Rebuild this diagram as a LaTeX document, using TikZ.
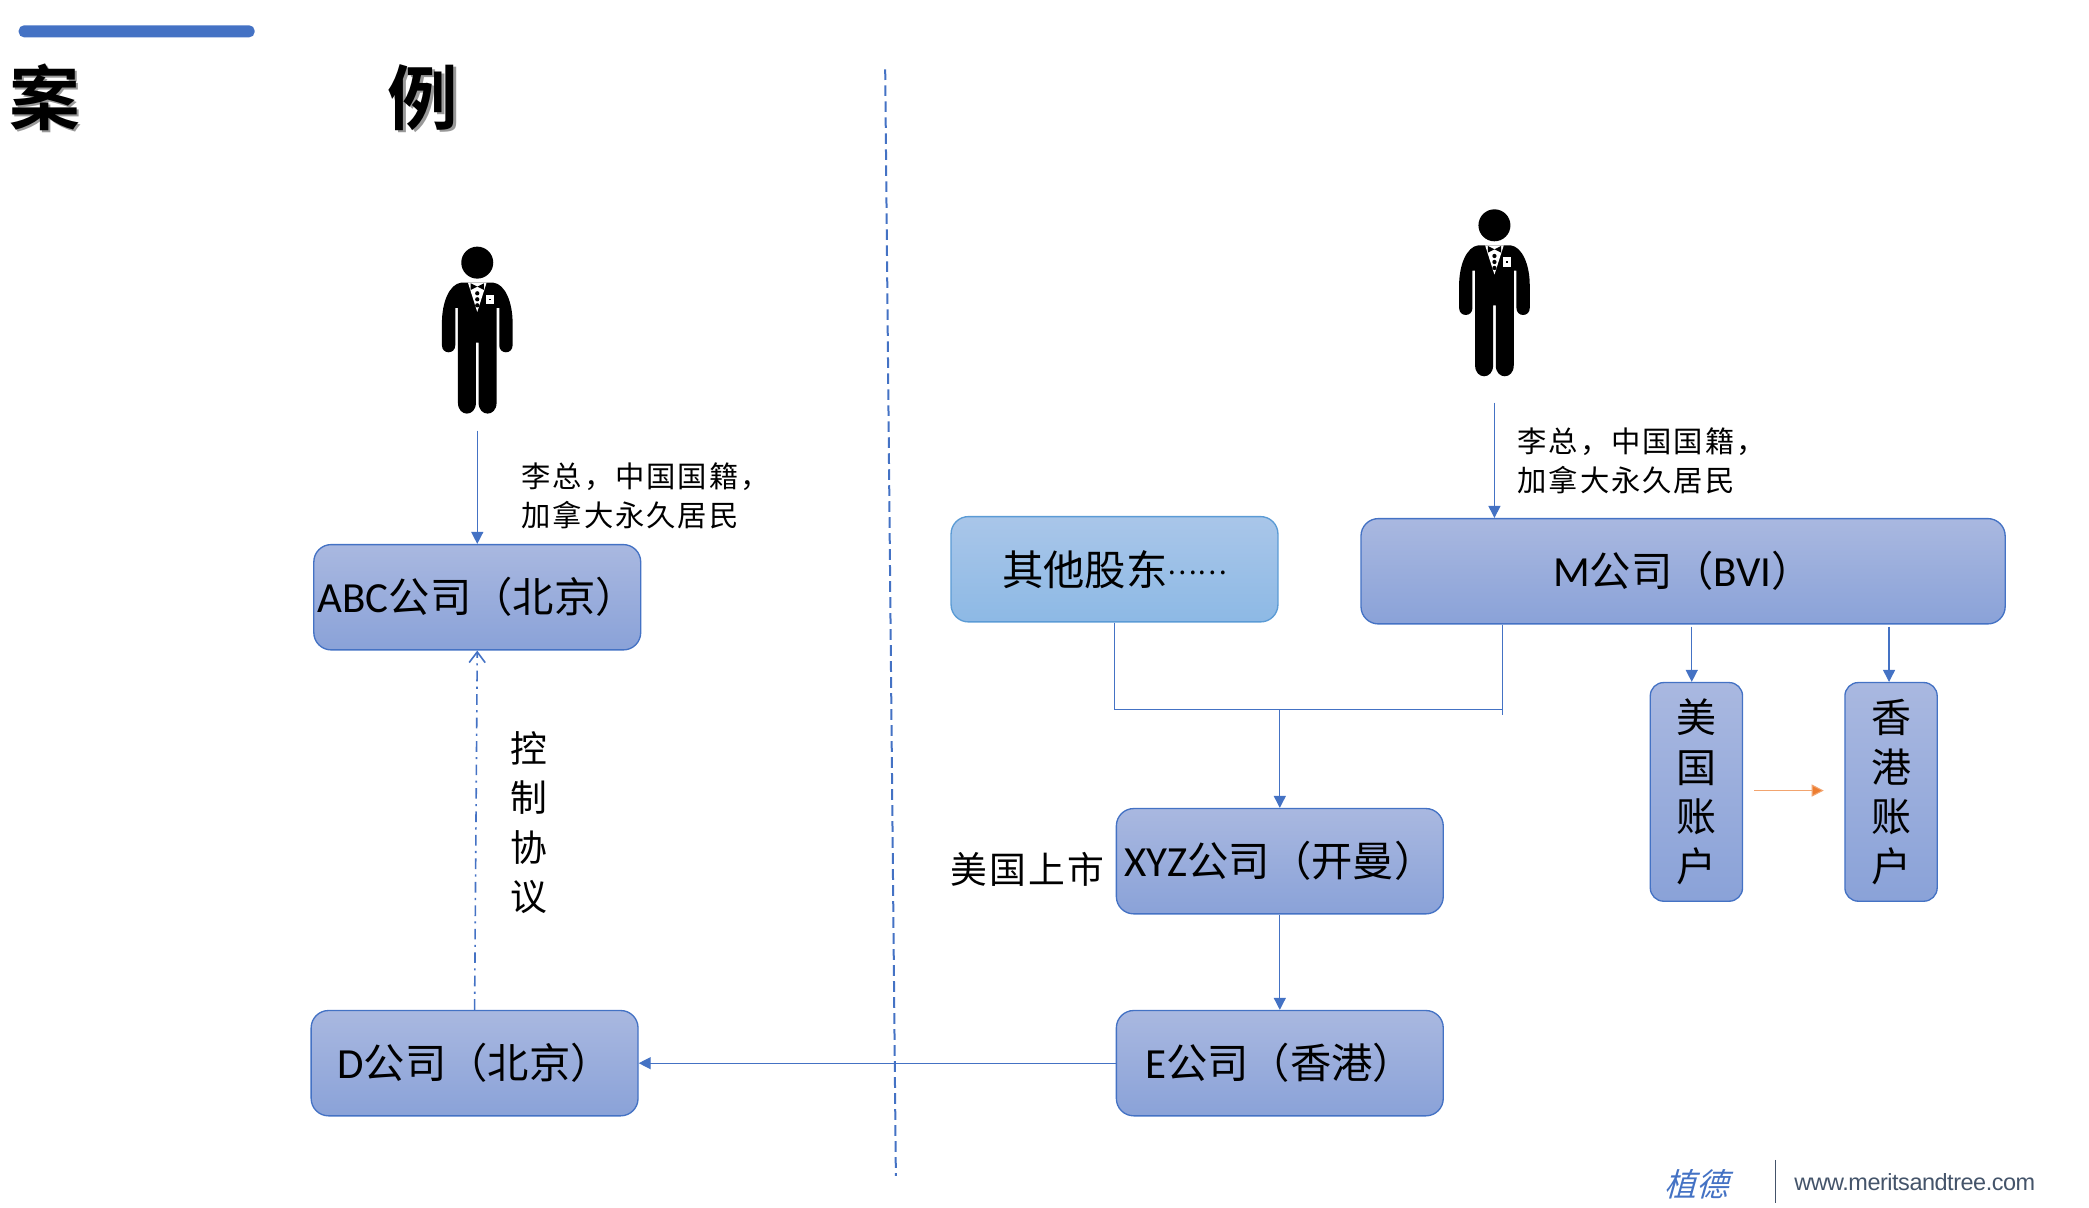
\documentclass[tikz,border=0pt]{standalone}
\usepackage{fontspec}
\usetikzlibrary{arrows.meta}
\setmainfont[Scale=1.04]{Carlito}
\newfontfamily\cjk{Noto Sans CJK SC}
\newfontfamily\cjkwide[LetterSpace=6.5]{Noto Sans CJK SC}
\newfontfamily\cjkbold[BoldFont=*]{Noto Sans CJK SC Bold}
\newfontfamily\cjkslant[FakeSlant=0.28]{Noto Sans CJK SC}
\newfontfamily\webfont[LetterSpace=-2]{Liberation Sans}
\definecolor{linkblue}{HTML}{4472C4}
\definecolor{boxtop}{HTML}{A9B8E0}
\definecolor{boxbot}{HTML}{8AA2D8}
\definecolor{othertop}{HTML}{A9C6E9}
\definecolor{otherbot}{HTML}{8DB9E5}
\definecolor{otherline}{HTML}{5B9BD5}
\definecolor{logogrey}{HTML}{44546A}
\definecolor{linkorange}{HTML}{ED7D31}
\tikzset{
    companybox/.style={draw=linkblue, line width=0.5pt, rounded corners=6.5pt, top color=boxtop,
        bottom color=boxbot, inner sep=0pt, minimum width=122.6pt, minimum height=39.5pt,
        font=\fontsize{15.5}{18.6}\selectfont},
    otherbox/.style={companybox, draw=otherline, top color=othertop, bottom color=otherbot},
    accountbox/.style={companybox, rounded corners=5pt, minimum width=34.6pt, minimum height=82pt,
        align=center, font=\cjk\fontsize{15}{18.6}\selectfont},
    notetext/.style={inner sep=0pt, align=left, font=\cjkwide\fontsize{11}{14.5}\selectfont},
    sidetext/.style={inner sep=0pt, align=center, font=\cjkwide\fontsize{13.8}{18.5}\selectfont},
    titletext/.style={inner sep=0pt, font=\cjkbold\fontsize{26.5}{26.5}\selectfont},
    link/.style={draw=linkblue, line width=0.5pt},
    linkarrow/.style={link, -{Triangle[length=4.5pt,width=4.5pt]}},
    manfig/.pic={
        \fill[black] (0,0) circle (6pt);
        \fill[black] (-12,15) .. controls (-21,16) and (-26.5,30) .. (-26.5,45) -- (-26.5,62)
            .. controls (-26.5,69) and (-16.5,69) .. (-16.5,62) -- (-16.5,34) -- (-14.5,34)
            -- (-14.5,105) .. controls (-14.5,116) and (-1,116) .. (-1,105) -- (-1,60) -- (1,60)
            -- (1,105) .. controls (1,116) and (14.5,116) .. (14.5,105) -- (14.5,34) -- (16.5,34)
            -- (16.5,62) .. controls (16.5,69) and (26.5,69) .. (26.5,62) -- (26.5,45)
            .. controls (26.5,30) and (21,16) .. (12,15) -- cycle;
        % shirt front, buttons and pocket
        \fill[white] (-7,15) -- (7,15) -- (0,37) -- cycle;
        \fill[black] (-5,15.5) -- (0,18) -- (5,15.5) -- (5,20.5) -- (0,18) -- (-5,20.5) -- cycle;
        \foreach \k in {23,27.5,32} \fill[black] (0,\k) circle (0.8pt);
        \fill[white] (6.5,24) rectangle (12.5,31);
        \fill[black] (8.5,27) rectangle (10.5,28);
    }
}
\begin{document}
\begin{tikzpicture}[x=0.5pt, y=-0.5pt]
    \useasboundingbox (0,0) rectangle (1567,906);

    % Title
    \fill[linkblue, rounded corners=2pt] (14,19) rectangle (191,28);
    \node[titletext, text=black!40] (titleAs) at (35.5,74.5) {案};
    \node[titletext, text=black!40] (titleBs) at (319.5,74.5) {例};
    \node[titletext] (titleA) at (33.5,73) {案};
    \node[titletext] (titleB) at (317.5,73) {例};

    % Divider
    \coordinate (divtop) at (664,52);
    \coordinate (divbot) at (672,882);
    \draw[link, line width=0.75pt, dash pattern=on 4pt off 2pt] (divtop) -- (divbot);

    % Left side
    \pic at (358,197) {manfig};
    \coordinate (manA) at (358,323);
    \node[companybox] (abc) at (358,448) {ABC{\cjk 公司（北京）}};
    \node[companybox] (dco) at (356,797.5) {D{\cjk 公司（北京）}};
    \node[notetext, anchor=west] (noteA) at (391,372) {李总，中国国籍，\\加拿大永久居民};
    \node[sidetext] (ctrl) at (397,617) {控\\制\\协\\议};
    \draw[linkarrow] (manA) -- (abc.north);
    \draw[link, line width=0.6pt, -{Straight Barb[length=4pt,width=6pt]}, dash pattern=on 4pt off 2pt on 0.8pt off 2pt] (dco.north) -- (abc.south);

    % Right side
    \pic at (1121,169) {manfig};
    \coordinate (manB) at (1121,302);
    \node[otherbox] (others) at (836,427) {{\cjk 其他股东\fontsize{10.5}{11}\selectfont\raisebox{4pt}{……}}};
    \node[companybox, minimum width=241.6pt] (mbvi) at (1262.5,428.5) {M{\cjk 公司（}BVI{\cjk ）}};
    \node[notetext, anchor=west] (noteB) at (1138,345.5) {李总，中国国籍，\\加拿大永久居民};
    \node[companybox] (xyz) at (960,646) {XYZ{\cjk 公司（开曼）}};
    \node[companybox] (eco) at (960,797.5) {E{\cjk 公司（香港）}};
    \node[sidetext, anchor=east] (listed) at (829,652) {美国上市};
    \node[accountbox] (usacc) at (1272.5,594) {美\\国\\账\\户};
    \node[accountbox] (hkacc) at (1418.5,594) {香\\港\\账\\户};

    \coordinate (mdrop) at (1127,536);
    \coordinate (merge) at (960,532);
    \coordinate (usout) at (1316,593);
    \coordinate (hkin) at (1368,593);
    \draw[linkarrow] (manB) -- (manB |- mbvi.north);
    \draw[link] (others.south) |- (mdrop |- merge);
    \draw[link] (mdrop |- mbvi.south) -- (mdrop);
    \draw[linkarrow] (merge) -- (xyz.north);
    \draw[linkarrow] (xyz.south) -- (eco.north);
    \draw[linkarrow] (eco.west) -- (dco.east);
    \draw[linkarrow] (1269,470) -- (1269,470 |- usacc.north);
    \draw[linkarrow] (1417,470) -- (1417,470 |- hkacc.north);
    \draw[draw=linkorange!70, line width=0.4pt, -{Triangle[length=4.5pt,width=4.5pt,fill=linkorange]}] (usout) -- (hkin);

    % Footer
    \node[inner sep=0pt, text=linkblue, font=\cjkslant\fontsize{12}{15}\selectfont] (logo) at (1272.5,888.5) {植德};
    \coordinate (logotop) at (1332,870);
    \coordinate (logobot) at (1332,902);
    \draw[logogrey, line width=0.5pt] (logotop) -- (logobot);
    \node[inner sep=0pt, anchor=west, text=logogrey, font=\webfont\fontsize{8.8}{11}\selectfont] (web) at (1345.5,887) {www.meritsandtree.com};
\end{tikzpicture}
\end{document}
